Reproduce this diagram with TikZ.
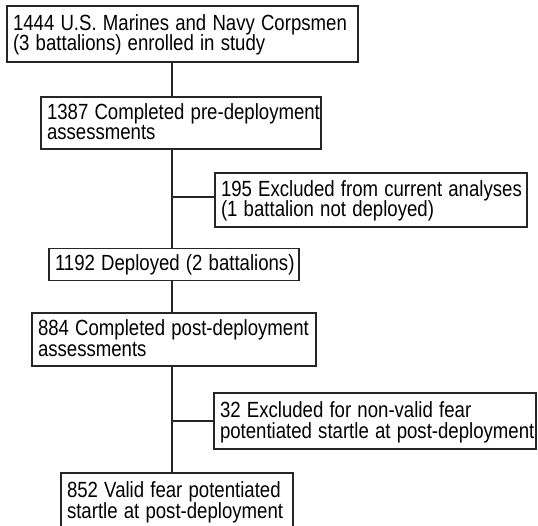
\documentclass[tikz,border=0pt]{standalone}
\usepackage{fontspec}
\usepackage{graphicx}
\setmainfont{Liberation Sans}
\newcommand{\tline}[1]{\scalebox{1}[1.18]{#1}}
\newcommand{\nolineskip}{\lineskiplimit=-100pt\lineskip=0pt\relax}
\begin{document}
\begin{tikzpicture}[x=1pt,y=-1pt,
  box/.style={draw=black!85, line width=1.3pt, inner xsep=6pt, inner ysep=0pt,
    outer sep=0pt, align=left, anchor=north west,
    font=\fontsize{18.6}{20.5}\selectfont, execute at begin node=\nolineskip,
    text height=18pt},
  two/.style={text depth=25pt},
  one/.style={text depth=5.4pt},
  link/.style={draw=black!85, line width=1.3pt}]
\useasboundingbox (0,0) rectangle (538,526);
\clip (0,0) rectangle (538,526);
\coordinate (trunk) at (172,0);
\node[box, two, text width=339pt, minimum height=56pt] (b1) at (7,6)
  {\tline{1444 U.S. Marines and Navy Corpsmen}\\\tline{(3 battalions) enrolled in study}};
\node[box, two, text width=268pt, minimum height=52pt] (b2) at (41,97)
  {\tline{1387 Completed pre-deployment}\\\tline{assessments}};
\node[box, two, text width=300pt, minimum height=54pt] (b3) at (215,173)
  {\tline{195 Excluded from current analyses}\\\tline{(1 battalion not deployed)}};
\node[box, one, text width=238pt, minimum height=32pt] (b4) at (49,248.5)
  {\tline{1192 Deployed (2 battalions)}};
\node[box, two, text width=272pt, minimum height=53pt] (b5) at (32,313)
  {\tline{884 Completed post-deployment}\\\tline{assessments}};
\node[box, two, text width=310pt, minimum height=56pt] (b6) at (214,393)
  {\tline{32 Excluded for non-valid fear}\\\tline{potentiated startle at post-deployment}};
\node[box, two, text width=220pt, minimum height=56pt] (b7) at (61,473)
  {\tline{852 Valid fear potentiated}\\\tline{startle at post-deployment}};
\path ([yshift=3pt]b3.west) coordinate (b3in);
\draw[link] (b1.south -| trunk) -- (b2.north -| trunk);
\draw[link] (b2.south -| trunk) -- (b4.north -| trunk);
\draw[link] (b3in -| trunk) -- (b3in);
\draw[link] (b4.south -| trunk) -- (b5.north -| trunk);
\draw[link] (b5.south -| trunk) -- (b7.north -| trunk);
\draw[link] (b6.west -| trunk) -- (b6.west);
\end{tikzpicture}
\end{document}
